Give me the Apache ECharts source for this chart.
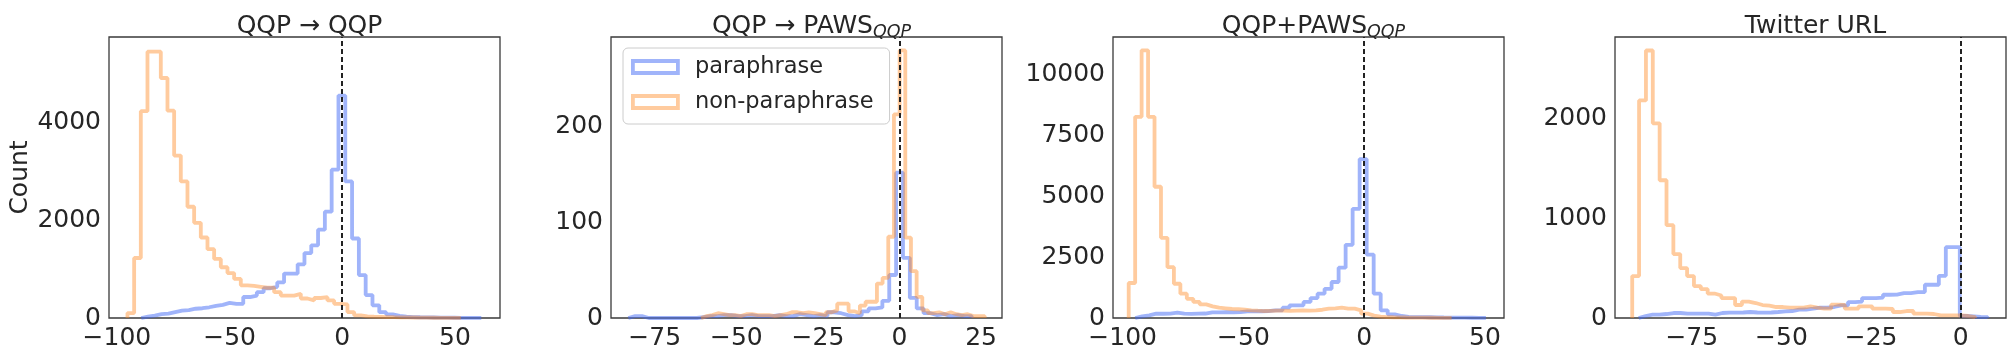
<!DOCTYPE html>
<html>
<head>
<meta charset="utf-8">
<script src="https://cdn.jsdelivr.net/npm/echarts@6.0.0/dist/echarts.min.js"></script>
<style>
  html, body { margin: 0; padding: 0; background: #fff; }
  #chart { width: 2016px; height: 360px; }
</style>
</head>
<body>
<div id="chart"></div>
<script>
// panel titles (rich text, subscript in {s|...})
const titles = [
  "{m|QQP → QQP}",
  "{m|QQP → PAWS}{s|QQP}",
  "{m|QQP+PAWS}{s|QQP}",
  "{m|Twitter URL}"
];

// histogram ranges [first edge, last edge], 50 bins each
const qqpParaRange = [-89.2, 61.7];
const qqpParaCounts = [30, 50, 80, 90, 120, 150, 160, 190, 200, 220, 250, 270, 310, 290, 290, 430, 460, 530, 610, 640,
  730, 910, 910, 1100, 1330, 1490, 1810, 2180, 3040, 4560, 2800, 1630, 880, 470, 260, 120, 75, 45, 30, 20,
  15, 12, 10, 8, 6, 5, 4, 3, 2, 2];
const qqpNonRange = [-95.3, 52.6];
const qqpNonCounts = [100, 1230, 4240, 5460, 5460, 4920, 4250, 3330, 2800, 2280, 1950, 1650, 1410, 1210, 1040, 920, 800, 670, 660, 640,
  620, 620, 530, 460, 460, 495, 400, 360, 410, 427, 360, 290, 278, 122, 54, 34, 28, 24, 20, 16,
  14, 12, 10, 8, 6, 5, 4, 3, 2, 2];

const pawsParaRange = [-83.1, 22.1];
const pawsParaCounts = [2, 2, 0, 0, 0, 0, 0, 0, 0, 0, 1, 2, 2, 3, 3, 2, 2, 3, 2, 2,
  2, 3, 2, 2, 4, 3, 2, 3, 2, 6, 5, 3, 2, 3, 7, 10, 11, 18, 45, 152,
  63, 21, 10, 5, 3, 4, 2, 3, 2, 2];
const pawsNonRange = [-60.8, 26.1];
const pawsNonCounts = [2, 3, 5, 4, 3, 3, 2, 4, 4, 3, 3, 3, 2, 3, 4, 6, 6, 5, 6, 5,
  4, 3, 6, 8, 15, 15, 7, 5, 13, 17, 17, 36, 42, 85, 213, 280, 84, 49, 22, 8,
  5, 6, 4, 6, 4, 3, 4, 2, 2, 2];

const mixParaRange = [-94.8, 50.4];
const mixParaCounts = [68, 110, 178, 175, 182, 220, 178, 172, 180, 185, 232, 228, 236, 230, 240, 274, 270, 278, 280, 315,
  318, 424, 520, 525, 660, 820, 1000, 1200, 1480, 2070, 3010, 4490, 6540, 2610, 1000, 315, 150, 82, 50, 40,
  35, 30, 25, 20, 18, 15, 12, 10, 8, 6];
const mixNonRange = [-97.5, 36.2];
const mixNonCounts = [1440, 8276, 11010, 8276, 5400, 3300, 2090, 1410, 1000, 790, 660, 560, 480, 424, 400, 370, 360, 340, 315, 300,
  287, 290, 300, 300, 290, 300, 310, 300, 315, 340, 383, 400, 424, 383, 383, 315, 178, 96, 60, 40,
  30, 25, 20, 18, 15, 12, 10, 8, 6, 5];

const twParaRange = [-89.8, 7.5];
const twParaCounts = [20, 33, 33, 40, 50, 50, 43, 43, 43, 43, 33, 50, 53, 53, 55, 60, 55, 53, 55, 60,
  67, 70, 83, 85, 93, 103, 103, 110, 127, 127, 160, 165, 200, 200, 205, 233, 235, 250, 250, 260,
  260, 333, 333, 423, 710, 710, 20, 15, 10, 8];
const twNonRange = [-91.6, 4.0];
const twNonCounts = [420, 2180, 2680, 1950, 1380, 930, 640, 500, 420, 320, 290, 245, 225, 200, 200, 130, 165, 150, 130, 125,
  110, 110, 103, 103, 103, 117, 103, 95, 93, 133, 130, 93, 95, 117, 117, 93, 93, 90, 60, 70,
  70, 43, 43, 40, 27, 27, 27, 25, 20, 8];

// axis limits and tick labels
const xLimits = [[-103.5, 70], [-88.4, 31.4], [-104, 57.9], [-96.4, 12.6]];
const yLimits = [[0, 5760], [0, 294], [0, 11560], [0, 2815]];
const xTicks = [[-100, -50, 0, 50], [-75, -50, -25, 0, 25], [-100, -50, 0, 50], [-75, -50, -25, 0]];
const yTicks = [[0, 2000, 4000], [0, 100, 200], [0, 2500, 5000, 7500, 10000], [0, 1000, 2000]];

const paraData = [[qqpParaRange, qqpParaCounts], [pawsParaRange, pawsParaCounts], [mixParaRange, mixParaCounts], [twParaRange, twParaCounts]];
const nonData = [[qqpNonRange, qqpNonCounts], [pawsNonRange, pawsNonCounts], [mixNonRange, mixNonCounts], [twNonRange, twNonCounts]];

const blue = "rgba(65, 105, 245, 0.5)";
const orange = "rgba(255, 140, 40, 0.45)";
const textColor = "#262626";
const font = "DejaVu Sans";
const gridLefts = [109, 611, 1113, 1615];
const gridWidth = 391;

// outline of a step histogram: up at first edge, across each bin, down at last edge
function stepPoints(range, counts) {
  const w = (range[1] - range[0]) / counts.length;
  const pts = [[range[0], 0]];
  counts.forEach((c, i) => pts.push([range[0] + i * w, c]));
  pts.push([range[1], 0]);
  return pts;
}

const fmt = (v) => (v < 0 ? "\u2212" + Math.abs(v) : String(v));

let chart = echarts.init(document.getElementById("chart"));
let option = {
  animation: false,
  backgroundColor: "#fff",
  title: titles.map((t, i) => ({
    text: t,
    left: gridLefts[i] + gridWidth / 2,
    top: 6,
    textAlign: "center",
    textStyle: {
      fontWeight: "normal",
      rich: {
        m: { fontSize: 25, fontWeight: "normal", fontFamily: font, color: textColor, lineHeight: 30 },
        s: { fontSize: 17.5, fontWeight: "normal", fontFamily: font, fontStyle: "italic", color: textColor, lineHeight: 19, verticalAlign: "bottom" },
      },
    },
  })),
  legend: {
    orient: "vertical",
    left: 623,
    top: 48,
    padding: [6, 16, 9, 8],
    itemWidth: 45,
    itemHeight: 12,
    itemGap: 9,
    backgroundColor: "rgba(255,255,255,0.8)",
    borderColor: "#cccccc",
    borderWidth: 1,
    borderRadius: 5,
    textStyle: { fontSize: 22.5, lineHeight: 26, fontFamily: font, color: textColor, padding: [0, 0, 0, 12] },
    data: [
      { name: "paraphrase", icon: "rect", itemStyle: { color: "transparent", borderColor: blue, borderWidth: 3.8 } },
      { name: "non-paraphrase", icon: "rect", itemStyle: { color: "transparent", borderColor: orange, borderWidth: 3.8 } },
    ],
  },
  grid: gridLefts.map((l) => ({
    left: l,
    top: 37,
    width: gridWidth,
    height: 281,
    show: true,
    borderColor: "#3a3a3a",
    borderWidth: 1.3,
    backgroundColor: "#fff",
  })),
  xAxis: xLimits.map((lim, i) => ({
    gridIndex: i,
    type: "value",
    min: lim[0],
    max: lim[1],
    axisLine: { show: false },
    axisTick: { show: false },
    splitLine: { show: false },
    axisLabel: { customValues: xTicks[i], formatter: fmt, fontSize: 25, fontFamily: font, color: textColor, margin: 8 },
  })),
  yAxis: yLimits.map((lim, i) => ({
    gridIndex: i,
    type: "value",
    min: lim[0],
    max: lim[1],
    name: i === 0 ? "Count" : "",
    nameLocation: "middle",
    nameRotate: 90,
    nameGap: 75,
    nameTextStyle: { fontSize: 25, fontFamily: font, color: textColor },
    axisLine: { show: false },
    axisTick: { show: false },
    splitLine: { show: false },
    axisLabel: { customValues: yTicks[i], formatter: fmt, fontSize: 25, fontFamily: font, color: textColor, margin: 8 },
  })),
  series: [],
};

for (let i = 0; i < 4; i++) {
  option.series.push({
    name: "paraphrase",
    type: "line",
    xAxisIndex: i,
    yAxisIndex: i,
    step: "end",
    showSymbol: false,
    data: stepPoints(paraData[i][0], paraData[i][1]),
    lineStyle: { color: blue, width: 3.8 },
    itemStyle: { color: blue },
    z: 2,
  });
  option.series.push({
    name: "non-paraphrase",
    type: "line",
    xAxisIndex: i,
    yAxisIndex: i,
    step: "end",
    showSymbol: false,
    data: stepPoints(nonData[i][0], nonData[i][1]),
    lineStyle: { color: orange, width: 3.8 },
    itemStyle: { color: orange },
    z: 3,
    markLine: {
      silent: true,
      symbol: "none",
      label: { show: false },
      lineStyle: { color: "#222", type: [5, 3], width: 2 },
      data: [{ xAxis: 0 }],
      z: 4,
    },
  });
}

option && chart.setOption(option);
</script>
</body>
</html>
